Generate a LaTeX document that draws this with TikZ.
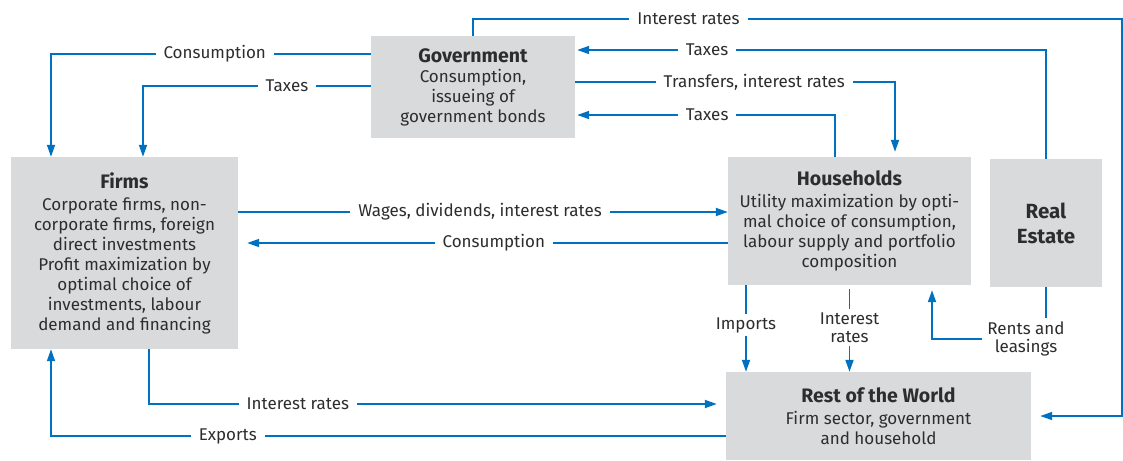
\documentclass[tikz,border=0pt]{standalone}
\usepackage{fontspec}
\setmainfont{Fira Sans}
\usetikzlibrary{arrows.meta}
\definecolor{flowblue}{RGB}{0,112,192}
\definecolor{sectorgray}{RGB}{217,218,220}
\definecolor{inktext}{RGB}{45,45,45}
\newcommand\boxfont{\fontsize{17}{20}\selectfont}
\newcommand\boxhead{\fontsize{19.5}{22}\selectfont\bfseries}

\begin{document}
\begin{tikzpicture}[x=1pt,y=-1pt,
    sector/.style={fill=sectorgray,inner sep=0pt,align=center,font=\boxfont,text=inktext},
    flow/.style={draw=flowblue,line width=1.8pt,-{Triangle[length=12pt,width=8pt]}},
    lbl/.style={fill=white,inner xsep=8pt,inner ysep=3pt,font=\boxfont,text=inktext,align=center},
    lbltwo/.style={lbl,font=\fontsize{17}{17.5}\selectfont,inner xsep=5pt,inner ysep=4pt}]
    \useasboundingbox (0,0) rectangle (1123,460);

    % sectors
    \node[sector,minimum width=204pt,minimum height=102pt] (gov) at (473,87) {{\boxhead Government}\\Consumption,\\issueing of\\government bonds};
    \node[sector,minimum width=227pt,minimum height=192pt] (firms) at (124.5,253) {{\boxhead Firms}\\[2pt]Corporate firms, non-\\corporate firms, foreign\\direct investments\\Profit maximization by\\optimal choice of\\investments, labour\\demand and financing};
    \node[sector,minimum width=243pt,minimum height=128pt] (hh) at (849.5,221) {{\boxhead Households}\\[2pt]Utility maximization by opti-\\mal choice of consumption,\\labour supply and portfolio\\composition};
    \node[sector,minimum width=112pt,minimum height=128pt,font=\fontsize{20.5}{25}\selectfont\bfseries] (re) at (1046,223) {Real\\Estate};
    \node[sector,minimum width=305pt,minimum height=88pt] (row) at (878.5,416) {{\boxhead Rest of the World}\\[2pt]Firm sector, government\\and household};

    % flows around the government
    \draw[flow,shorten >=9pt] (gov.north) |- node[lbl,pos=0.666]{Interest rates} (1122,19) |- (row.east);
    \draw[flow,shorten >=2pt] (re.north) |- node[lbl,pos=0.86]{Taxes} (gov.east |- 0,50);
    \draw[flow,shorten >=5pt] (gov.east |- 0,82) -| node[lbl,pos=0.28]{Transfers, interest rates} ([xshift=45.5pt]hh.north);
    \draw[flow,shorten >=2pt] ([xshift=-14.5pt]hh.north) |- node[lbl,pos=0.746]{Taxes} (gov.east |- 0,115);
    \draw[flow] (gov.west |- 0,54) -| node[lbl,pos=0.244]{Consumption} ([xshift=-73.5pt]firms.north);
    \draw[flow] (gov.west |- 0,86) -| node[lbl,pos=0.184]{Taxes} ([xshift=18.5pt]firms.north);

    % firms and households
    \draw[flow] (firms.east |- 0,212) -- node[lbl,pos=0.494]{Wages, dividends, interest rates} (hh.west |- 0,212);
    \draw[flow,shorten >=9pt] (hh.west |- 0,243) -- node[lbl,pos=0.478]{Consumption} (firms.east |- 0,243);

    % rest of the world
    \draw[flow,shorten >=9pt] ([xshift=24.5pt]firms.south) |- node[lbl,pos=0.629]{Interest rates} (row.west |- 0,404);
    \draw[flow] (row.west |- 0,436) -| node[lbl,pos=0.369]{Exports} ([xshift=-73.5pt]firms.south);
    \draw[flow] ([xshift=-103.5pt]hh.south) -- node[lbl,pos=0.46,inner xsep=3pt]{Imports} ([xshift=-103.5pt]hh.south |- row.north);
    \draw[flow,shorten <=4pt] (hh.south) -- node[lbltwo,pos=0.49]{Interest\\rates} (hh.south |- row.north);

    % real estate
    \draw[flow,shorten >=5pt] (re.south) |- node[lbltwo,pos=0.5,xshift=-20pt]{Rents and\\leasings} ([xshift=82.5pt]hh.south |- 0,339) -- ([xshift=82.5pt]hh.south);
\end{tikzpicture}
\end{document}
